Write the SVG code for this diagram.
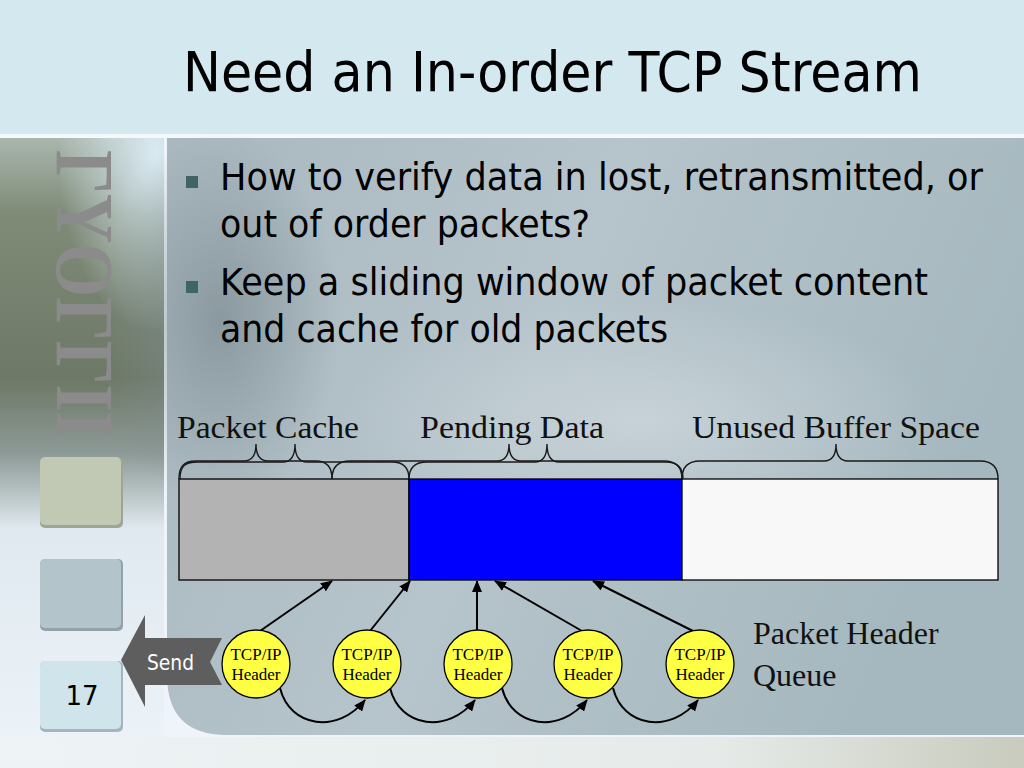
<svg xmlns="http://www.w3.org/2000/svg" width="1024" height="768" viewBox="0 0 1024 768">
<defs>
<style>
.title{font-family:"DejaVu Sans",Verdana,sans-serif;font-size:55px;fill:#000}
.bul{font-family:"DejaVu Sans",Verdana,sans-serif;font-size:37px;fill:#000}
.lbl{font-family:"Liberation Serif","Times New Roman",serif;font-size:32px;fill:#111}
.hdr{font-family:"Liberation Serif","Times New Roman",serif;font-size:17px;fill:#000;text-anchor:middle}
.brace{fill:none;stroke:#1a1a1a;stroke-width:1.4}
.conn{fill:none;stroke:#000;stroke-width:2}
.node{fill:#ffff44;stroke:#000;stroke-width:1.3}
</style>
<marker id="ah" viewBox="0 0 12 10" refX="11" refY="5" markerWidth="12" markerHeight="10" markerUnits="userSpaceOnUse" orient="auto">
<path d="M0,0 L12,5 L0,10 Z" fill="#000"/>
</marker>
<linearGradient id="leftPhoto" x1="0" y1="0" x2="0" y2="1">
<stop offset="0" stop-color="#a9b6ad"/>
<stop offset="0.12" stop-color="#7f8b77"/>
<stop offset="0.38" stop-color="#6d7866"/>
<stop offset="0.5" stop-color="#8d9996"/>
<stop offset="0.62" stop-color="#dfe9ef"/>
<stop offset="1" stop-color="#eef4f9"/>
</linearGradient>
<radialGradient id="leftLight" cx="0.95" cy="0.05" r="0.6">
<stop offset="0" stop-color="#d9eaf2" stop-opacity="1"/>
<stop offset="1" stop-color="#d9eaf2" stop-opacity="0"/>
</radialGradient>
<linearGradient id="panel" x1="0" y1="0" x2="1" y2="0.3">
<stop offset="0" stop-color="#a9b8bf"/>
<stop offset="0.5" stop-color="#b6c4cb"/>
<stop offset="1" stop-color="#a6b8bf"/>
</linearGradient>
<radialGradient id="panelDark" cx="0.5" cy="0.5" r="0.5">
<stop offset="0" stop-color="#7f8e93" stop-opacity="0.75"/>
<stop offset="1" stop-color="#7f8e93" stop-opacity="0"/>
</radialGradient>
<radialGradient id="panelLight" cx="0.5" cy="0.5" r="0.5">
<stop offset="0" stop-color="#c9d4d9" stop-opacity="0.9"/>
<stop offset="1" stop-color="#c9d4d9" stop-opacity="0"/>
</radialGradient>
<linearGradient id="bottomStrip" x1="0" y1="0" x2="1" y2="0">
<stop offset="0" stop-color="#eef3f6"/>
<stop offset="0.7" stop-color="#e6ebe9"/>
<stop offset="1" stop-color="#c8cbbd"/>
</linearGradient>
</defs>

<!-- background -->
<rect x="0" y="0" width="1024" height="768" fill="#eef4f9"/>
<rect x="0" y="0" width="1024" height="134" fill="#d3e8ef"/>
<rect x="0" y="134" width="1024" height="4" fill="#f4f9fb"/>
<rect x="0" y="138" width="164" height="630" fill="url(#leftPhoto)"/>
<rect x="0" y="138" width="164" height="300" fill="url(#leftLight)"/>
<rect x="0" y="737" width="1024" height="31" fill="url(#bottomStrip)"/>
<path d="M167,138 H1024 V735 H227 Q167,735 167,675 Z" fill="url(#panel)"/>
<ellipse cx="220" cy="320" rx="120" ry="190" fill="url(#panelDark)"/>
<ellipse cx="640" cy="420" rx="300" ry="120" fill="url(#panelLight)"/>

<!-- decorative vertical text -->
<text transform="translate(57,150) rotate(90)" font-family="Liberation Serif,'Times New Roman',serif" font-weight="bold" font-size="82" fill="#8b8b8b" textLength="288" lengthAdjust="spacingAndGlyphs">ΓYOΓΓII</text>

<!-- side squares -->
<g id="sq1"><rect x="40" y="457" width="83" height="71" rx="5" fill="#9ea596"/><rect x="40" y="457" width="81" height="68" rx="5" fill="#c1c8b4"/></g>
<g id="sq2"><rect x="40" y="559" width="83" height="72" rx="5" fill="#93a2aa"/><rect x="40" y="559" width="81" height="69" rx="5" fill="#b4c4cb"/></g>
<g id="sq3"><rect x="40" y="661" width="83" height="71" rx="5" fill="#a3b6bf"/><rect x="40" y="661" width="81" height="68" rx="5" fill="#cfe4eb"/>
<text x="82" y="705" font-family="'DejaVu Sans',Verdana,sans-serif" font-size="26" text-anchor="middle" fill="#000">17</text></g>

<!-- title & bullets -->
<text class="title" x="183" y="91" textLength="739" lengthAdjust="spacingAndGlyphs">Need an In-order TCP Stream</text>
<rect x="186" y="176" width="12" height="12" fill="#3e6463"/>
<text class="bul" x="220" y="190" textLength="763" lengthAdjust="spacingAndGlyphs">How to verify data in lost, retransmitted, or</text>
<text class="bul" x="220" y="237" textLength="370" lengthAdjust="spacingAndGlyphs">out of order packets?</text>
<rect x="186" y="281" width="12" height="12" fill="#3e6463"/>
<text class="bul" x="220" y="295" textLength="708" lengthAdjust="spacingAndGlyphs">Keep a sliding window of packet content</text>
<text class="bul" x="220" y="342" textLength="448" lengthAdjust="spacingAndGlyphs">and cache for old packets</text>

<!-- buffer labels -->
<text class="lbl" x="177" y="438" textLength="182" lengthAdjust="spacingAndGlyphs">Packet Cache</text>
<text class="lbl" x="420" y="438" textLength="184" lengthAdjust="spacingAndGlyphs">Pending Data</text>
<text class="lbl" x="692" y="438" textLength="288" lengthAdjust="spacingAndGlyphs">Unused Buffer Space</text>

<!-- buffer -->
<g id="buffer">
<rect x="179" y="479" width="230" height="101" fill="#b3b3b3" stroke="#000" stroke-width="1.3"/>
<rect x="409" y="479" width="273" height="101" fill="#0000ff" stroke="#000" stroke-width="1.3"/>
<rect x="682" y="479" width="316" height="101" fill="#f8f8f8" stroke="#000" stroke-width="1.3"/>
</g>

<!-- braces -->
<g id="braces">
<path class="brace" d="M179,479 C179,466 184,461 196,461 L244,461 C252,461 256,456 256,444 C256,456 260,461 268,461 L316,461 C326,461 332,466 332,479"/>
<path class="brace" d="M180,479 C180,465 186,462 198,462 L283,462 C291,462 295,456 295,444 C295,456 299,462 307,462 L392,462 C403,462 409,467 409,479"/>
<path class="brace" d="M332,479 C332,467 338,461 350,461 L497,461 C505,461 509,456 509,444 C509,456 513,461 521,461 L664,461 C676,461 682,467 682,479"/>
<path class="brace" d="M409,479 C409,467 415,462 427,462 L535,462 C543,462 547,456 547,444 C547,456 551,462 559,462 L666,462 C677,462 683,468 683,479"/>
<path class="brace" d="M682,479 C682,467 688,461 700,461 L824,461 C832,461 836,456 836,444 C836,456 840,461 848,461 L980,461 C992,461 998,467 998,479"/>
</g>

<!-- connectors -->
<g id="connectors">
<line class="conn" x1="260" y1="631" x2="332" y2="581" marker-end="url(#ah)"/>
<line class="conn" x1="370" y1="631" x2="410" y2="581" marker-end="url(#ah)"/>
<line class="conn" x1="477" y1="630" x2="477" y2="581" marker-end="url(#ah)"/>
<line class="conn" x1="582" y1="631" x2="495" y2="581" marker-end="url(#ah)"/>
<line class="conn" x1="693" y1="631" x2="593" y2="581" marker-end="url(#ah)"/>
<path class="conn" d="M280,688 C290,728 338,734 365,700" marker-end="url(#ah)"/>
<path class="conn" d="M390,688 C400,728 448,734 475,700" marker-end="url(#ah)"/>
<path class="conn" d="M502,688 C512,728 560,734 587,700" marker-end="url(#ah)"/>
<path class="conn" d="M613,688 C623,728 671,734 698,700" marker-end="url(#ah)"/>
</g>

<!-- header nodes -->
<g id="n1"><circle class="node" cx="256" cy="664" r="34"/><text class="hdr" x="256" y="660">TCP/IP</text><text class="hdr" x="256" y="680">Header</text></g>
<g id="n2"><circle class="node" cx="367" cy="664" r="34"/><text class="hdr" x="367" y="660">TCP/IP</text><text class="hdr" x="367" y="680">Header</text></g>
<g id="n3"><circle class="node" cx="478" cy="664" r="34"/><text class="hdr" x="478" y="660">TCP/IP</text><text class="hdr" x="478" y="680">Header</text></g>
<g id="n4"><circle class="node" cx="588" cy="664" r="34"/><text class="hdr" x="588" y="660">TCP/IP</text><text class="hdr" x="588" y="680">Header</text></g>
<g id="n5"><circle class="node" cx="700" cy="664" r="34"/><text class="hdr" x="700" y="660">TCP/IP</text><text class="hdr" x="700" y="680">Header</text></g>

<text class="lbl" x="753" y="644">Packet Header</text>
<text class="lbl" x="753" y="686">Queue</text>

<!-- send arrow -->
<g id="send">
<polygon points="121,660 145,615 145,638 222,638 210,662 222,685 145,685 145,707" fill="#5e5e5e"/>
<text x="147" y="670" font-family="'DejaVu Sans',Verdana,sans-serif" font-size="21" fill="#ffffff" textLength="47" lengthAdjust="spacingAndGlyphs">Send</text>
</g>
</svg>
